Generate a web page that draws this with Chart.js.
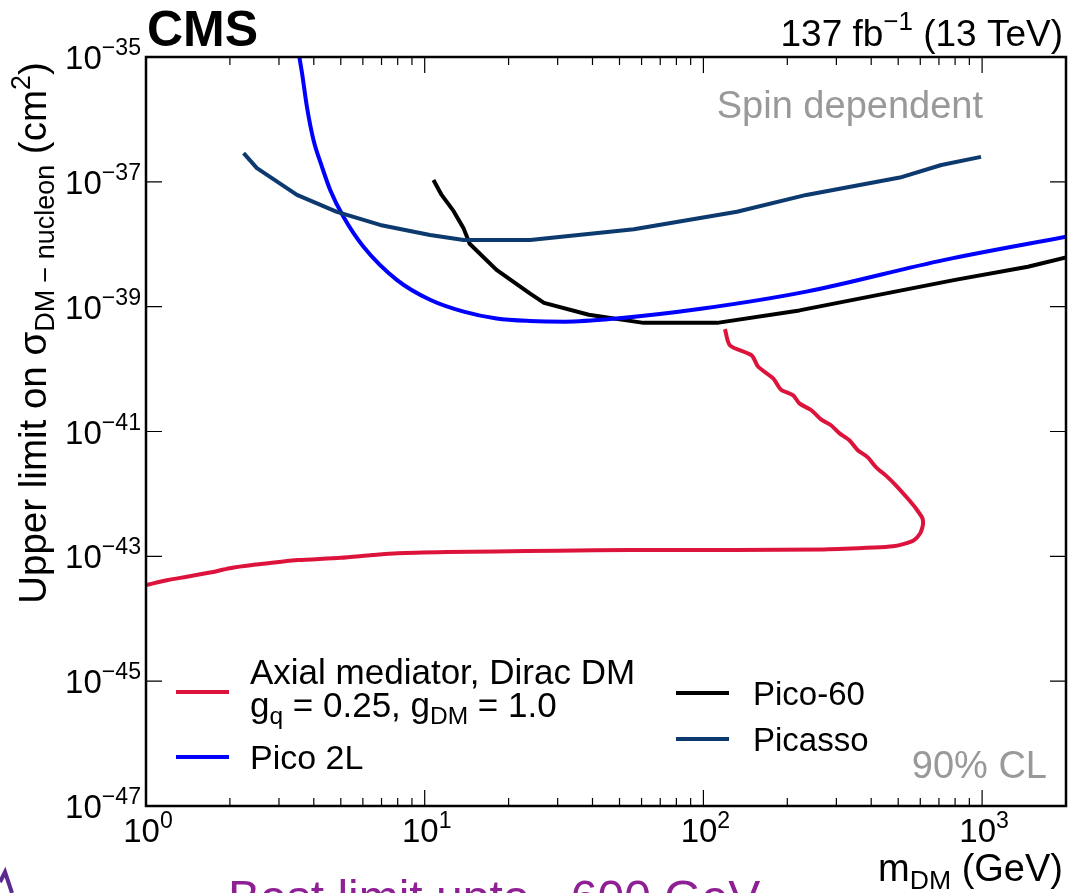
<!DOCTYPE html>
<html>
<head>
<meta charset="utf-8">
<script src="https://cdn.jsdelivr.net/npm/chart.js@4.4.0/dist/chart.umd.min.js"></script>
<style>
  html, body { margin: 0; padding: 0; background: #fff; }
  #wrap { width: 1072px; height: 893px; position: relative; overflow: hidden; }
</style>
</head>
<body>
<div id="wrap"><canvas id="limitChart" width="1072" height="893"></canvas></div>
<script>
const FONT = '"Liberation Sans", Arial, Helvetica, sans-serif';

// ---------------------------
// Data: m_DM (GeV) vs upper limit on sigma (cm^2)
// ---------------------------
const cmsMass = [1, 1.2, 1.4, 1.7, 2, 2.5, 3, 3.5, 5, 6.5, 8, 12, 18, 30, 55, 130, 270, 410, 480, 525, 570, 600, 611, 614, 611,
  578, 540, 497, 458, 416, 388, 358, 334, 308, 287, 265, 244, 221, 210, 190, 178, 157, 149, 124.5, 119.5];
const cmsSigma = [3.47e-44, 4.17e-44, 4.7e-44, 5.5e-44, 6.46e-44, 7.41e-44, 8.13e-44, 8.71e-44, 9.5e-44, 1.05e-43,
  1.12e-43, 1.17e-43, 1.20e-43, 1.23e-43, 1.26e-43,
  1.26e-43, 1.29e-43, 1.38e-43, 1.45e-43, 1.58e-43, 1.82e-43, 2.34e-43, 2.95e-43, 3.39e-43, 4.07e-43,
  5.89e-43, 8.51e-43, 1.29e-42, 1.86e-42, 2.69e-42, 3.89e-42, 5.01e-42, 7.24e-42, 9.33e-42, 1.26e-41,
  1.55e-41, 2.19e-41, 2.82e-41, 3.80e-41, 4.68e-41, 7.08e-41, 1.10e-40, 1.66e-40, 2.40e-40, 4.37e-40];

const pico2lMass = [3.55, 3.63, 3.78, 3.99, 4.28, 4.58, 5.11, 6.03, 7.94, 10.45, 13.8, 18.1, 23.9, 31.8,
  48.7, 99.5, 234, 734, 2000];
const pico2lSigma = [1.0e-35, 5.5e-36, 1.58e-36, 4.68e-37, 1.74e-37, 7.41e-38, 2.75e-38, 9.12e-39,
  2.69e-39, 1.29e-39, 8.32e-40, 6.46e-40, 5.89e-40, 5.75e-40, 6.46e-40, 9.33e-40, 1.74e-39, 5.62e-39, 1.32e-38];

const pico60Mass = [10.75, 11.5, 12.7, 13.8, 14.5, 18.1, 23.9, 26.8, 38.8, 61, 112, 221, 800, 1460, 2000];
const pico60Sigma = [1.07e-37, 6.17e-38, 3.39e-38, 1.78e-38, 1.02e-38, 3.89e-39, 1.62e-39, 1.15e-39,
  7.41e-40, 5.50e-40, 5.50e-40, 8.71e-40, 2.69e-39, 4.37e-39, 6.17e-39];

const picassoMass = [2.24, 2.5, 3.48, 4.84, 6.92, 10.45, 13.8, 23.9, 56.3, 132, 234, 507, 714, 991];
const picassoSigma = [2.88e-37, 1.66e-37, 6.17e-38, 3.31e-38, 2.04e-38, 1.41e-38, 1.17e-38, 1.17e-38,
  1.74e-38, 3.31e-38, 6.17e-38, 1.17e-37, 1.86e-37, 2.51e-37];

// axis ticks
const xMajorTicks = [1, 10, 100, 1000];
const xTickExps = ['0', '1', '2', '3'];
const yMajorTicks = [1e-35, 1e-37, 1e-39, 1e-41, 1e-43, 1e-45, 1e-47];
const yTickExps = ['\u221235', '\u221237', '\u221239', '\u221241', '\u221243', '\u221245', '\u221247'];

const COLORS = { cms: '#dc143c', pico2l: '#0000ff', pico60: '#000000', picasso: '#0c3a6e' };

function toPoints(xs, ys) {
    return xs.map((x, i) => ({ x: x, y: ys[i] }));
}

// draw text made of segments: {t, s: 'sub'|'sup'|undefined}
function drawRich(ctx, segs, x, y, size, align, color, bold) {
    const weight = bold ? 'bold ' : '';
    let total = 0;
    const widths = segs.map(seg => {
        const fs = seg.s ? size * 0.7 : size;
        ctx.font = weight + fs + 'px ' + FONT;
        const w = ctx.measureText(seg.t).width;
        total += w;
        return w;
    });
    let cx = align === 'right' ? x - total : (align === 'center' ? x - total / 2 : x);
    ctx.fillStyle = color || '#000';
    ctx.textAlign = 'left';
    ctx.textBaseline = 'alphabetic';
    segs.forEach((seg, i) => {
        const fs = seg.s ? size * 0.7 : size;
        let dy = 0;
        if (seg.s === 'sup') dy = -size * 0.42;
        if (seg.s === 'sub') dy = size * 0.2;
        ctx.font = weight + fs + 'px ' + FONT;
        ctx.fillText(seg.t, cx, y + dy);
        cx += widths[i];
    });
}

// ---------------------------
// Frame, ticks, labels, legend
// ---------------------------
const decorPlugin = {
    id: 'decor',
    afterDraw(chart) {
        const ctx = chart.ctx;
        const area = chart.chartArea;
        const xs = chart.scales.x;
        const ys = chart.scales.y;
        ctx.save();

        // ticks on all four sides, pointing inward
        ctx.strokeStyle = '#000';
        ctx.lineWidth = 1.2;
        for (let dec = 1; dec <= 1000; dec *= 10) {
            for (let k = 1; k <= 9; k++) {
                const v = dec * k;
                if (v > xs.max) break;
                const px = xs.getPixelForValue(v);
                const len = k === 1 ? 16 : 8;
                ctx.beginPath();
                ctx.moveTo(px, area.bottom); ctx.lineTo(px, area.bottom - len);
                ctx.moveTo(px, area.top); ctx.lineTo(px, area.top + len);
                ctx.stroke();
            }
        }
        yMajorTicks.forEach(v => {
            const py = ys.getPixelForValue(v);
            ctx.beginPath();
            ctx.moveTo(area.left, py); ctx.lineTo(area.left + 16, py);
            ctx.moveTo(area.right, py); ctx.lineTo(area.right - 16, py);
            ctx.stroke();
        });

        // frame
        ctx.lineWidth = 2.5;
        ctx.strokeRect(area.left, area.top, area.right - area.left, area.bottom - area.top);

        // tick labels
        xMajorTicks.forEach((v, i) => {
            const px = xs.getPixelForValue(v);
            drawRich(ctx, [{ t: '10' }, { t: xTickExps[i], s: 'sup' }], px + 2, area.bottom + 36, 33, 'center');
        });
        yMajorTicks.forEach((v, i) => {
            const py = ys.getPixelForValue(v);
            drawRich(ctx, [{ t: '10' }, { t: yTickExps[i], s: 'sup' }], area.left - 5, py + 12, 33, 'right');
        });

        // axis titles
        drawRich(ctx, [{ t: 'm' }, { t: 'DM', s: 'sub' }, { t: ' (GeV)' }], 1063, 881, 38, 'right');
        ctx.save();
        ctx.translate(46, 333);
        ctx.rotate(-Math.PI / 2);
        drawRich(ctx, [{ t: 'Upper limit on \u03c3' }, { t: 'DM \u2212 nucleon', s: 'sub' }, { t: ' (cm' },
            { t: '2', s: 'sup' }, { t: ')' }], 0, 0, 38.5, 'center');
        ctx.restore();

        // header
        drawRich(ctx, [{ t: 'CMS' }], 147, 46, 50, 'left', '#000', true);
        drawRich(ctx, [{ t: '137 fb' }, { t: '\u22121', s: 'sup' }, { t: ' (13 TeV)' }], 1063, 46, 37, 'right');

        // in-plot annotations
        drawRich(ctx, [{ t: 'Spin dependent' }], 983, 118, 38, 'right', '#999');
        drawRich(ctx, [{ t: '90% CL' }], 1047, 778, 38, 'right', '#999');

        // legend
        const legendLine = (x, y, color) => {
            ctx.strokeStyle = color;
            ctx.lineWidth = 4;
            ctx.beginPath();
            ctx.moveTo(x, y); ctx.lineTo(x + 53, y);
            ctx.stroke();
        };
        legendLine(176, 692, COLORS.cms);
        drawRich(ctx, [{ t: 'Axial mediator, Dirac DM' }], 250, 684, 35, 'left');
        drawRich(ctx, [{ t: 'g' }, { t: 'q', s: 'sub' }, { t: ' = 0.25, g' }, { t: 'DM', s: 'sub' }, { t: ' = 1.0' }],
            250, 717, 35, 'left');
        legendLine(176, 757, COLORS.pico2l);
        drawRich(ctx, [{ t: 'Pico 2L' }], 250, 769, 34, 'left');
        legendLine(676, 693, COLORS.pico60);
        drawRich(ctx, [{ t: 'Pico-60' }], 753, 705, 33, 'left');
        legendLine(676, 739, COLORS.picasso);
        drawRich(ctx, [{ t: 'Picasso' }], 753, 751, 33, 'left');

        // purple note at the bottom edge (cut off)
        drawRich(ctx, [{ t: 'Best limit upto ~600 GeV' }], 228, 914, 48, 'left', '#8e1f94');
        ctx.strokeStyle = '#5a2a8e';
        ctx.lineWidth = 4;
        ctx.beginPath();
        ctx.moveTo(0, 882); ctx.lineTo(5, 872); ctx.lineTo(12, 893);
        ctx.stroke();

        ctx.restore();
    }
};

function makeDataset(label, xs, ys, color, tension) {
    return {
        label: label,
        data: toPoints(xs, ys),
        showLine: true,
        borderColor: color,
        backgroundColor: color,
        borderWidth: 4,
        pointRadius: 0,
        tension: tension || 0,
        borderJoinStyle: 'round',
        borderCapStyle: 'butt'
    };
}

document.addEventListener('DOMContentLoaded', () => {
    const canvas = document.getElementById('limitChart');
    const blue = makeDataset('Pico 2L', pico2lMass, pico2lSigma, COLORS.pico2l);
    blue.cubicInterpolationMode = 'monotone';
    new Chart(canvas.getContext('2d'), {
        type: 'scatter',
        data: {
            datasets: [
                makeDataset('Picasso', picassoMass, picassoSigma, COLORS.picasso),
                blue,
                makeDataset('Pico-60', pico60Mass, pico60Sigma, COLORS.pico60),
                makeDataset('Axial mediator, Dirac DM', cmsMass, cmsSigma, COLORS.cms, 0.25)
            ]
        },
        options: {
            responsive: false,
            animation: false,
            events: [],
            layout: { padding: { left: 146, right: 6, top: 57, bottom: 87 } },
            plugins: { legend: { display: false }, tooltip: { enabled: false } },
            scales: {
                x: { type: 'logarithmic', min: 1, max: 2000, display: false },
                y: { type: 'logarithmic', min: 1e-47, max: 1e-35, display: false }
            }
        },
        plugins: [decorPlugin]
    });
});
</script>
</body>
</html>
